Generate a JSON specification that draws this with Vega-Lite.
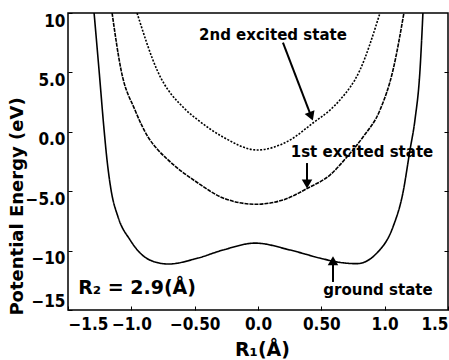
{
  "$schema": "https://vega.github.io/schema/vega-lite/v6.json",
  "width": 380,
  "height": 297,
  "autosize": {"type": "none"},
  "padding": {"left": 68, "top": 13, "right": 1, "bottom": 50},
  "background": "white",
  "config": {
    "view": {"stroke": "black", "strokeWidth": 1.5},
    "axis": {
      "grid": false,
      "domain": false,
      "tickColor": "black",
      "tickSize": -4,
      "tickWidth": 1,
      "labelColor": "black",
      "labelFont": "DejaVu Sans Condensed",
      "labelFontWeight": "bold",
      "labelFontSize": 17,
      "labelOverlap": false,
      "titleColor": "black",
      "titleFont": "DejaVu Sans, sans-serif",
      "titleFontWeight": "bold",
      "titleFontSize": 18
    }
  },
  "resolve": {"axis": {"y": "independent"}},
  "datasets": {
    "curves": [
      {"state": "ground", "x": -1.294, "E": 10},
      {"state": "ground", "x": -1.255, "E": 5.2},
      {"state": "ground", "x": -1.215, "E": 0.15},
      {"state": "ground", "x": -1.192, "E": -2.37},
      {"state": "ground", "x": -1.16, "E": -4.9},
      {"state": "ground", "x": -1.105, "E": -7.17},
      {"state": "ground", "x": -1.01, "E": -9.1},
      {"state": "ground", "x": -0.931, "E": -10.2},
      {"state": "ground", "x": -0.813, "E": -10.96},
      {"state": "ground", "x": -0.71, "E": -11.13},
      {"state": "ground", "x": -0.474, "E": -10.63},
      {"state": "ground", "x": -0.276, "E": -9.95},
      {"state": "ground", "x": -0.02, "E": -9.37},
      {"state": "ground", "x": 0.253, "E": -9.95},
      {"state": "ground", "x": 0.489, "E": -10.63},
      {"state": "ground", "x": 0.62, "E": -10.95},
      {"state": "ground", "x": 0.781, "E": -11.1},
      {"state": "ground", "x": 0.939, "E": -10.2},
      {"state": "ground", "x": 1.066, "E": -8.0},
      {"state": "ground", "x": 1.144, "E": -5.15},
      {"state": "ground", "x": 1.2, "E": -1.53},
      {"state": "ground", "x": 1.239, "E": 0.99},
      {"state": "ground", "x": 1.279, "E": 5.2},
      {"state": "ground", "x": 1.302, "E": 10},
      {"state": "first", "x": -1.152, "E": 10},
      {"state": "first", "x": -1.081, "E": 5.2},
      {"state": "first", "x": -0.971, "E": 1.83},
      {"state": "first", "x": -0.868, "E": -0.44},
      {"state": "first", "x": -0.789, "E": -1.53},
      {"state": "first", "x": -0.71, "E": -2.37},
      {"state": "first", "x": -0.474, "E": -4.31},
      {"state": "first", "x": -0.276, "E": -5.57},
      {"state": "first", "x": -0.02, "E": -6.1},
      {"state": "first", "x": 0.197, "E": -5.74},
      {"state": "first", "x": 0.395, "E": -4.73},
      {"state": "first", "x": 0.568, "E": -3.64},
      {"state": "first", "x": 0.702, "E": -2.12},
      {"state": "first", "x": 0.829, "E": -0.44},
      {"state": "first", "x": 0.963, "E": 1.83},
      {"state": "first", "x": 1.066, "E": 5.2},
      {"state": "first", "x": 1.152, "E": 10},
      {"state": "second", "x": -0.955, "E": 10},
      {"state": "second", "x": -0.797, "E": 5.2},
      {"state": "second", "x": -0.568, "E": 1.83},
      {"state": "second", "x": -0.474, "E": 0.99},
      {"state": "second", "x": -0.276, "E": -0.44},
      {"state": "second", "x": -0.008, "E": -1.53},
      {"state": "second", "x": 0.253, "E": -0.69},
      {"state": "second", "x": 0.434, "E": 0.74},
      {"state": "second", "x": 0.568, "E": 1.83},
      {"state": "second", "x": 0.647, "E": 2.68},
      {"state": "second", "x": 0.805, "E": 5.2},
      {"state": "second", "x": 0.963, "E": 10}
    ],
    "arrows": [
      {"x": 0.197, "y": 7.5, "x2": 0.42, "y2": 1.3, "hx": 0.42, "hy": 1.3, "angle": 159},
      {"x": 0.387, "y": -2.63, "x2": 0.387, "y2": -4.3, "hx": 0.387, "hy": -4.4, "angle": 180},
      {"x": 0.592, "y": -12.64, "x2": 0.592, "y2": -10.9, "hx": 0.592, "hy": -10.85, "angle": 0}
    ],
    "labels": [
      {"x": 0.118, "y": 8.15, "text": "2nd excited state"},
      {"x": 0.821, "y": -1.7, "text": "1st excited state"},
      {"x": 0.947, "y": -13.32, "text": "ground state"}
    ],
    "param": [
      {"x": -1.42, "y": -13.15, "text": "R₂ = 2.9(Å)"}
    ]
  },
  "layer": [
    {
      "data": {"name": "curves"},
      "mark": {"type": "line", "interpolate": "monotone", "color": "black", "strokeWidth": 1.6, "clip": true},
      "encoding": {
        "x": {
          "field": "x", "type": "quantitative",
          "scale": {"domain": [-1.5, 1.5], "nice": false},
          "axis": {
            "title": "R₁(Å)",
            "values": [-1.5, -1, -0.5, 0, 0.5, 1, 1.5],
            "labelExpr": "abs(datum.value) == 0.5 ? format(datum.value, '.2f') : format(datum.value, '.1f')",
            "labelFlush": true,
            "labelPadding": 10,
            "titleY": 39,
            "titleX": 194,
            "titleBaseline": "middle",
            "titleFontSize": 19
          }
        },
        "y": {
          "field": "E", "type": "quantitative",
          "scale": {"domain": [-15, 10], "nice": false},
          "axis": {
            "title": "Potential Energy (eV)",
            "values": [-15, -10, -5, 0, 5, 10],
            "labelExpr": "abs(datum.value) >= 10 ? format(datum.value, 'd') : format(datum.value, '.1f')",
            "labelFlush": false,
            "labelBaseline": {"condition": {"test": "datum.value == -15", "value": "bottom"}, "value": "top"},
            "labelPadding": 7,
            "titleX": -51,
            "titleY": 193,
            "titleAngle": -90,
            "titleBaseline": "middle",
            "titleAlign": "center"
          }
        },
        "detail": {"field": "state"},
        "strokeDash": {
          "field": "state", "type": "nominal",
          "scale": {"domain": ["ground", "first", "second"], "range": [[1, 0], [4, 1], [2, 1.5]]},
          "legend": null
        }
      }
    },
    {
      "data": {"name": "arrows"},
      "mark": {"type": "rule", "color": "black", "strokeWidth": 2},
      "encoding": {
        "x": {"field": "x", "type": "quantitative"},
        "y": {
          "field": "y", "type": "quantitative",
          "axis": {"orient": "right", "labels": false, "title": null, "values": [-10, -5, 0, 5]}
        },
        "x2": {"field": "x2"},
        "y2": {"field": "y2"}
      }
    },
    {
      "data": {"name": "arrows"},
      "mark": {"type": "point", "shape": "triangle-up", "filled": true, "color": "black", "size": 110, "opacity": 1},
      "encoding": {
        "x": {"field": "hx", "type": "quantitative"},
        "y": {"field": "hy", "type": "quantitative", "axis": null},
        "angle": {"field": "angle", "type": "quantitative", "scale": null}
      }
    },
    {
      "data": {"name": "labels"},
      "mark": {"type": "text", "font": "DejaVu Sans, sans-serif", "fontWeight": "bold", "fontSize": 15, "color": "black", "align": "center", "baseline": "middle"},
      "encoding": {
        "x": {"field": "x", "type": "quantitative"},
        "y": {"field": "y", "type": "quantitative", "axis": null},
        "text": {"field": "text"}
      }
    },
    {
      "data": {"name": "param"},
      "mark": {"type": "text", "font": "DejaVu Sans, sans-serif", "fontWeight": "bold", "fontSize": 19, "color": "black", "align": "left", "baseline": "middle"},
      "encoding": {
        "x": {"field": "x", "type": "quantitative"},
        "y": {"field": "y", "type": "quantitative", "axis": null},
        "text": {"field": "text"}
      }
    }
  ]
}
